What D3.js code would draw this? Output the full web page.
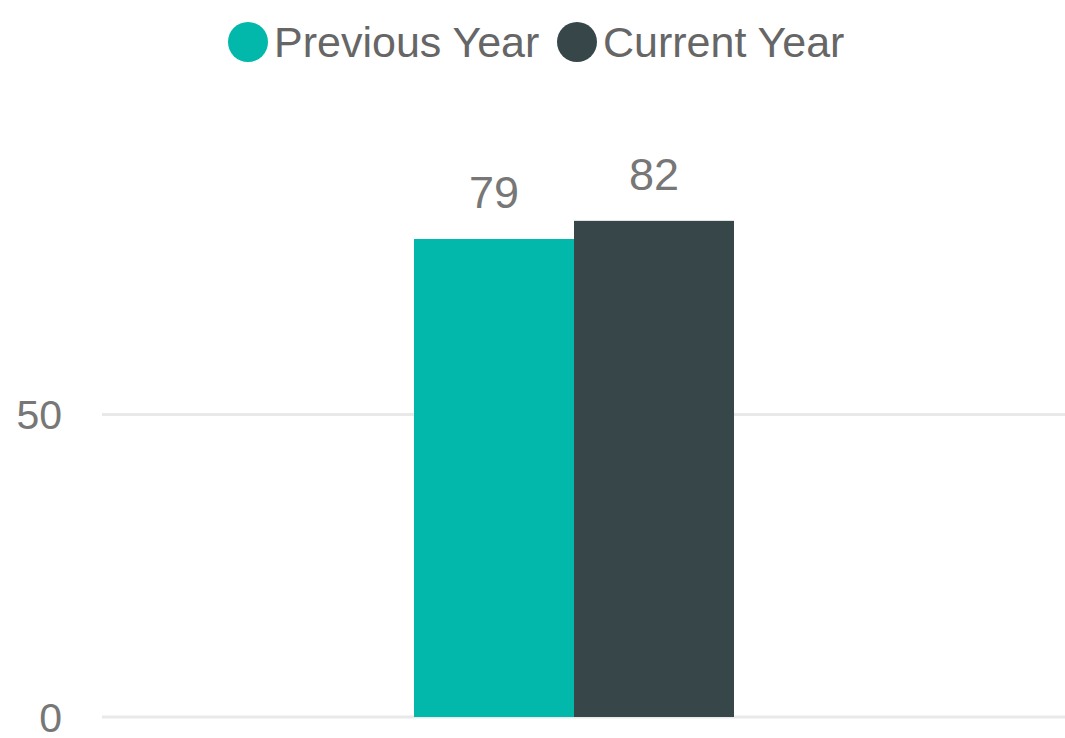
<!DOCTYPE html>
<html>
<head>
<meta charset="utf-8">
<script src="https://cdn.jsdelivr.net/npm/d3@7"></script>
<style>
  html, body { margin: 0; padding: 0; background: #fff; }
  svg { display: block; font-family: "Liberation Sans", Arial, sans-serif; }
</style>
</head>
<body>
<svg id="chart"></svg>
<script>
// data
const categories = ["Total"]
const seriesNames = ["Previous Year", "Current Year"]
const previousYear = [79]
const currentYear = [82]
const yTicks = [0, 50]
const colors = ["#01B8AA", "#374649"]

const width = 1065, height = 738
const plotLeft = 102, plotRight = 1046, gridRight = 1065
const plotTop = 0, plotBottom = 717

const svg = d3.select("#chart").attr("width", width).attr("height", height)

const y = d3.scaleLinear()
    .domain([0, 118.5])
    .range([plotBottom, plotTop])

const x = d3.scaleBand()
    .domain(categories)
    .range([plotLeft, plotRight])
    .paddingInner(0)
    .paddingOuter(0.975)

const xSub = d3.scaleBand()
    .domain(seriesNames)
    .range([0, x.bandwidth()])

// gridlines
svg.append("g")
    .selectAll("line")
    .data(yTicks)
    .enter().append("line")
    .attr("x1", plotLeft)
    .attr("x2", gridRight)
    .attr("y1", d => y(d))
    .attr("y2", d => y(d))
    .attr("stroke", "#e9e9e9")
    .attr("stroke-width", 3)

// y tick labels
svg.append("g")
    .selectAll("text")
    .data(yTicks)
    .enter().append("text")
    .attr("x", 62)
    .attr("y", d => y(d))
    .attr("dy", "0.36em")
    .attr("text-anchor", "end")
    .attr("font-size", 41)
    .attr("fill", "#777")
    .text(d => d)

// bars
const rows = categories.map((c, i) => ({
    cat: c,
    values: [
        { name: seriesNames[0], value: previousYear[i], color: colors[0] },
        { name: seriesNames[1], value: currentYear[i], color: colors[1] }
    ]
}))

const groups = svg.append("g")
    .selectAll("g")
    .data(rows)
    .enter().append("g")
    .attr("transform", d => "translate(" + x(d.cat) + ",0)")

groups.selectAll("rect")
    .data(d => d.values)
    .enter().append("rect")
    .attr("x", d => xSub(d.name))
    .attr("width", xSub.bandwidth())
    .attr("y", d => y(d.value))
    .attr("height", d => y(0) - y(d.value))
    .attr("fill", d => d.color)

groups.selectAll("text")
    .data(d => d.values)
    .enter().append("text")
    .attr("x", d => xSub(d.name) + xSub.bandwidth() / 2)
    .attr("y", d => y(d.value) - 31)
    .attr("text-anchor", "middle")
    .attr("font-size", 45)
    .attr("fill", "#777")
    .text(d => d.value)

// legend
const legendX = [248, 577]
const legend = svg.append("g")
    .selectAll("g")
    .data(seriesNames)
    .enter().append("g")
    .attr("transform", (d, i) => "translate(" + legendX[i] + ",42)")

legend.append("circle")
    .attr("r", 20)
    .attr("fill", (d, i) => colors[i])

legend.append("text")
    .attr("x", 26)
    .attr("dy", "0.36em")
    .attr("font-size", 43)
    .attr("fill", "#666")
    .text(d => d)
</script>
</body>
</html>
